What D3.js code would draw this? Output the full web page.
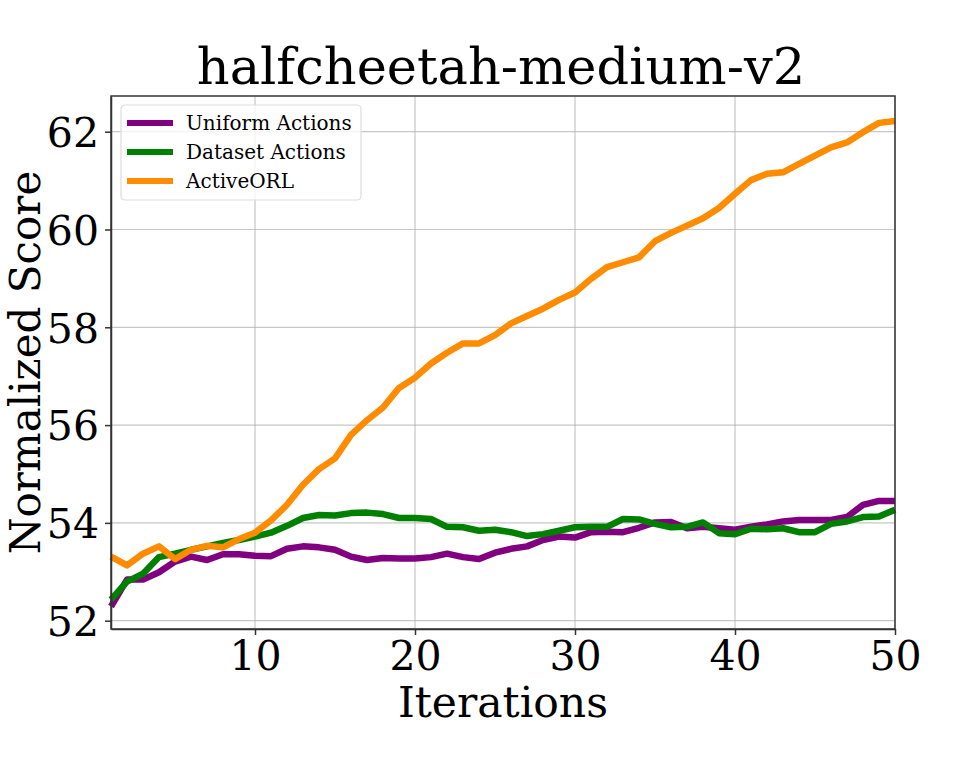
<!DOCTYPE html>
<meta charset="utf-8">

<style>

body {
  margin: 0;
  background: #fff;
}

svg text {
  font-family: "DejaVu Serif", serif;
  fill: #000;
}

.grid line {
  stroke: #b0b0b0;
  stroke-width: 1.2;
  opacity: 0.7;
}

.axis path, .axis line {
  stroke: #333;
  stroke-width: 1.5;
}

</style>


<div>
  <svg class="chart" width="969" height="775"></svg>
</div>


<script src="https://d3js.org/d3.v7.min.js"></script>

<script>

var iterations = d3.range(1, 51);

var uniformActions = [
  52.29, 52.84, 52.84, 52.99, 53.21, 53.31, 53.24, 53.36, 53.36, 53.33,
  53.32, 53.47, 53.52, 53.50, 53.45, 53.31, 53.24, 53.28, 53.27, 53.27,
  53.30, 53.37, 53.30, 53.26, 53.39, 53.47, 53.52, 53.65, 53.72, 53.70,
  53.81, 53.82, 53.81, 53.90, 54.01, 54.02, 53.89, 53.92, 53.89, 53.86,
  53.92, 53.97, 54.03, 54.06, 54.06, 54.06, 54.12, 54.37, 54.45, 54.45
];

var datasetActions = [
  52.43, 52.80, 52.96, 53.30, 53.37, 53.45, 53.52, 53.59, 53.65, 53.72,
  53.80, 53.94, 54.10, 54.16, 54.15, 54.20, 54.21, 54.18, 54.10, 54.10,
  54.08, 53.92, 53.91, 53.84, 53.86, 53.81, 53.73, 53.77, 53.84, 53.91,
  53.92, 53.92, 54.08, 54.07, 53.98, 53.91, 53.92, 54.01, 53.79, 53.77,
  53.88, 53.87, 53.89, 53.81, 53.81, 53.98, 54.03, 54.12, 54.13, 54.27
];

var activeORL = [
  53.31, 53.13, 53.37, 53.52, 53.26, 53.45, 53.53, 53.50, 53.67, 53.80,
  54.05, 54.37, 54.78, 55.10, 55.32, 55.80, 56.10, 56.36, 56.76, 56.97,
  57.26, 57.48, 57.67, 57.67, 57.84, 58.08, 58.23, 58.38, 58.56, 58.71,
  58.99, 59.23, 59.33, 59.43, 59.76, 59.93, 60.08, 60.23, 60.44, 60.73,
  61.01, 61.14, 61.17, 61.34, 61.51, 61.68, 61.78, 61.99, 62.18, 62.22
];

var xTicks = [10, 20, 30, 40, 50];
var yTicks = [52, 54, 56, 58, 60, 62];

var series = [
  {name: "Uniform Actions", values: uniformActions, color: "purple"},
  {name: "Dataset Actions", values: datasetActions, color: "green"},
  {name: "ActiveORL", values: activeORL, color: "darkorange"}
];

var svg = d3.select("svg.chart");
var margin = {left: 111, right: 74, top: 96, bottom: 146};
var width = +svg.attr("width") - margin.left - margin.right;
var height = +svg.attr("height") - margin.top - margin.bottom;

var x = d3.scaleLinear().domain([1, 50]).range([0, width]);
var y = d3.scaleLinear().domain([51.83, 62.73]).range([height, 0]);

var g = svg.append("g")
  .attr("transform", `translate(${margin.left},${margin.top})`);

// grid
g.append("g").attr("class", "grid")
  .selectAll("line.gx").data(xTicks).enter()
  .append("line")
    .attr("x1", d => x(d)).attr("x2", d => x(d))
    .attr("y1", 0).attr("y2", height);

g.append("g").attr("class", "grid")
  .selectAll("line.gy").data(yTicks).enter()
  .append("line")
    .attr("x1", 0).attr("x2", width)
    .attr("y1", d => y(d)).attr("y2", d => y(d));

// lines
var line = d3.line()
  .x((d, i) => x(iterations[i]))
  .y(d => y(d));

g.append("g").selectAll("path").data(series).enter()
  .append("path")
    .attr("d", d => line(d.values))
    .attr("fill", "none")
    .attr("stroke", d => d.color)
    .attr("stroke-width", 6.5)
    .attr("stroke-linejoin", "round");

// axes
var xAxis = g.append("g").attr("class", "axis")
  .attr("transform", `translate(0,${height})`)
  .call(d3.axisBottom(x).tickValues(xTicks).tickSize(6).tickPadding(5).tickSizeOuter(0));
xAxis.selectAll("text").style("font-size", "41px").attr("dy", "0.72em");

var yAxis = g.append("g").attr("class", "axis")
  .call(d3.axisLeft(y).tickValues(yTicks).tickSize(6).tickPadding(6).tickSizeOuter(0));
yAxis.selectAll("text").style("font-size", "41px").attr("dy", "0.36em");

// frame
g.append("rect")
  .attr("width", width).attr("height", height)
  .attr("fill", "none").attr("stroke", "#333").attr("stroke-width", 1.5);

// title and labels
svg.append("text")
  .attr("x", 501).attr("y", 84)
  .attr("text-anchor", "middle")
  .style("font-size", "51px")
  .text("halfcheetah-medium-v2");

svg.append("text")
  .attr("x", 503).attr("y", 717)
  .attr("text-anchor", "middle")
  .style("font-size", "42.5px")
  .text("Iterations");

svg.append("text")
  .attr("transform", `translate(40,${margin.top + height / 2}) rotate(-90)`)
  .attr("text-anchor", "middle")
  .style("font-size", "42px")
  .text("Normalized Score");

// legend
var legend = g.append("g").attr("transform", "translate(10,9)");
legend.append("rect")
  .attr("width", 240).attr("height", 95).attr("rx", 4)
  .attr("fill", "#fff").attr("fill-opacity", 0.8)
  .attr("stroke", "#ddd").attr("stroke-width", 1.2);

var item = legend.selectAll("g.item").data(series).enter()
  .append("g")
    .attr("transform", (d, i) => `translate(6,${18 + i * 29})`);
item.append("line")
  .attr("x1", 0).attr("x2", 46)
  .attr("stroke", d => d.color).attr("stroke-width", 6);
item.append("text")
  .attr("x", 59).attr("dy", "0.35em")
  .style("font-size", "20px")
  .text(d => d.name);

</script>
